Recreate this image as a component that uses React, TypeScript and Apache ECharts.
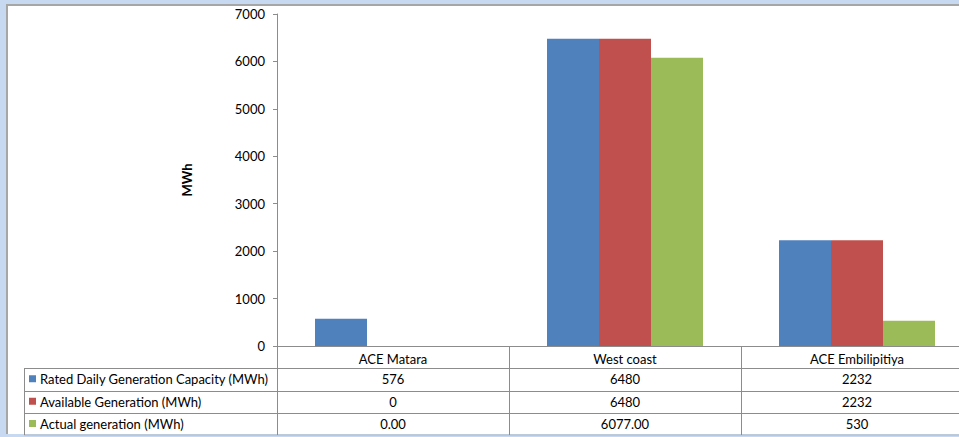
import React, { useEffect, useRef } from "react";
import * as echarts from "echarts";

const categories = ["ACE Matara", "West coast", "ACE Embilipitiya"];
const seriesNames = [
  "Rated Daily Generation Capacity (MWh)",
  "Available Generation (MWh)",
  "Actual generation (MWh)",
];
const rated = [576, 6480, 2232];
const available = [0, 6480, 2232];
const actual = [0, 6077, 530];
const ratedLabels = ["576", "6480", "2232"];
const availableLabels = ["0", "6480", "2232"];
const actualLabels = ["0.00", "6077.00", "530"];
const colors = ["#4f81bd", "#c0504d", "#9bbb59"];
const yMin = 0;
const yMax = 7000;
const yInterval = 1000;

const FONT = "Lato";
const FS = 13;
const LINE = "#8c8c8c";

export default function App() {
  const ref = useRef<HTMLDivElement>(null);
  useEffect(() => {
    if (!ref.current) return;
    const chart = echarts.init(ref.current, null, { renderer: "svg" });
    const seriesData = [rated, available, actual];
    chart.setOption({
      animation: false,
      textStyle: { fontFamily: FONT },
      grid: { left: 277, top: 14, height: 332, width: 696, containLabel: false },
      xAxis: {
        type: "category",
        data: categories,
        axisLine: { lineStyle: { color: LINE, width: 1 } },
        axisTick: { show: false },
        axisLabel: { color: "#000", fontSize: FS, fontFamily: FONT, margin: 6 },
      },
      yAxis: {
        type: "value",
        min: yMin,
        max: yMax,
        interval: yInterval,
        name: "MWh",
        nameLocation: "middle",
        nameRotate: 90,
        nameGap: 84,
        nameTextStyle: { color: "#000", fontWeight: "bold", fontSize: FS, fontFamily: FONT },
        axisLine: { show: true, lineStyle: { color: LINE, width: 1 } },
        axisTick: { show: true, length: 4, lineStyle: { color: LINE } },
        splitLine: { show: false },
        axisLabel: {
          color: "#000",
          fontSize: FS,
          fontFamily: FONT,
          margin: 12,
          formatter: (v: number) => String(v),
        },
      },
      series: seriesNames.map((n, i) => ({
        type: "bar",
        name: n,
        data: seriesData[i],
        barWidth: 52,
        barGap: "0%",
        itemStyle: { color: colors[i] },
      })),
    });

    const xs = categories.map((_, i) => chart.convertToPixel({ xAxisIndex: 0 }, i) as number);
    const y0 = chart.convertToPixel({ yAxisIndex: 0 }, 0) as number;
    const bw = xs[1] - xs[0];
    const rowTops = [y0 + 22, y0 + 44.5, y0 + 67, y0 + 89];
    const tableLeft = 24;
    const right = 959;
    const elems: any[] = [];
    [rowTops[0], rowTops[1], rowTops[2]].forEach((y) => {
      elems.push({
        type: "line",
        shape: { x1: tableLeft, y1: Math.round(y) + 0.5, x2: right, y2: Math.round(y) + 0.5 },
        style: { stroke: LINE, lineWidth: 1 },
        silent: true,
      });
    });
    elems.push({
      type: "line",
      shape: { x1: tableLeft, y1: rowTops[3], x2: right, y2: rowTops[3] },
      style: { stroke: "#b0b8c4", lineWidth: 1 },
      silent: true,
    });
    elems.push({
      type: "line",
      shape: { x1: tableLeft + 0.5, y1: rowTops[0], x2: tableLeft + 0.5, y2: rowTops[3] },
      style: { stroke: LINE, lineWidth: 1 },
      silent: true,
    });
    for (let i = 0; i <= categories.length; i++) {
      const x = Math.round(xs[0] - bw / 2 + i * bw) + 0.5;
      elems.push({
        type: "line",
        shape: { x1: x, y1: y0, x2: x, y2: rowTops[3] },
        style: { stroke: LINE, lineWidth: 1 },
        silent: true,
      });
    }
    const rowLabels = [ratedLabels, availableLabels, actualLabels];
    for (let r = 0; r < 3; r++) {
      const cy = (rowTops[r] + rowTops[r + 1]) / 2;
      elems.push({
        type: "rect",
        shape: { x: 29, y: cy - 4, width: 7, height: 7 },
        style: { fill: colors[r] },
        silent: true,
      });
      elems.push({
        type: "text",
        x: 40,
        y: cy,
        style: {
          text: seriesNames[r],
          fill: "#000",
          fontSize: FS,
          fontFamily: FONT,
          align: "left",
          verticalAlign: "middle",
        },
        silent: true,
      });
      for (let c = 0; c < categories.length; c++) {
        elems.push({
          type: "text",
          x: xs[c],
          y: cy,
          style: {
            text: rowLabels[r][c],
            fill: "#000",
            fontSize: FS,
            fontFamily: FONT,
            align: "center",
            verticalAlign: "middle",
          },
          silent: true,
        });
      }
    }
    chart.setOption({ graphic: { elements: elems } });
    return () => chart.dispose();
  }, []);

  return (
    <div
      style={{
        position: "absolute",
        left: 0,
        top: 0,
        width: 959,
        height: 437,
        background: "#c6d9f1",
        overflow: "hidden",
      }}
    >
      <div
        style={{
          position: "absolute",
          left: 6,
          top: 4,
          width: 953,
          height: 430,
          background: "#fff",
          borderLeft: "2px solid #a6a6a6",
          borderTop: "2px solid #a6a6a6",
          boxSizing: "border-box",
        }}
      />
      <div ref={ref} style={{ position: "absolute", left: 0, top: 0, width: 990, height: 437 }} />
    </div>
  );
}
